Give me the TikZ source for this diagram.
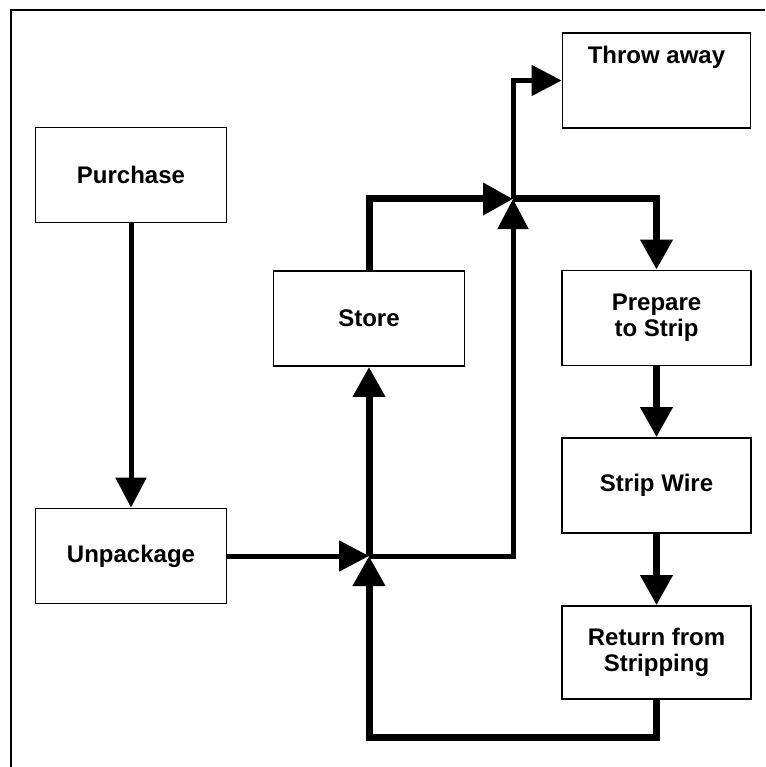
\documentclass[tikz,border=0pt]{standalone}
\usepackage{fontspec}
\setmainfont{Liberation Sans}
\usepackage{tikz}
\usetikzlibrary{arrows.meta,calc,positioning}

\begin{document}
\begin{tikzpicture}[x=1pt,y=-1pt,
    box/.style={draw,line width=1.8pt,minimum width=191pt,minimum height=95pt,
      inner sep=0pt,align=center,font=\bfseries\fontsize{24}{26}\selectfont},
    thinflow/.style={line width=5pt,-{Triangle[length=30pt,width=30pt]}},
    thickflow/.style={line width=7pt,-{Triangle[length=30pt,width=31pt]}}]
    \useasboundingbox (0,0) rectangle (765,767);
    % Ramme (kun top og venstre side)
    \draw[line width=1.6pt] (765,10) -- (11,10) -- (11,767);
    % Kasserne
    \node[box] (purchase) at (131,175) {Purchase};
    \node[box] (unpackage) at (131,556) {Unpackage};
    \node[box] (store) at (369,318.5) {Store};
    \node[box,minimum width=188pt,text height=17pt,text depth=50pt] (throw) at (656.5,80.5) {Throw away};
    \node[box,minimum width=189pt] (prepare) at (656.5,318) {Prepare\\to Strip};
    \node[box,minimum width=189pt] (strip) at (656.5,485.5) {Strip Wire};
    \node[box,minimum width=189pt,minimum height=93pt] (return) at (656.5,652.5) {Return from\\Stripping};
    % Knudepunkter
    \coordinate (j1) at (369,556);
    \coordinate (j2) at (513,199);
    \coordinate (bottom) at (656.5,737);
    % Pile
    \draw[thinflow] (purchase) -- (unpackage);
    \draw[thinflow] (unpackage) -- (j1);
    \draw[thickflow] (j1) -- (store);
    \draw[thinflow] (j1) -| (j2);
    \draw[thickflow] (store) |- (j2);
    \draw[thickflow] (j2) -| (prepare);
    \draw[thinflow] (j2) |- (throw);
    \draw[thickflow] (prepare) -- (strip);
    \draw[thickflow] (strip) -- (return);
    \draw[thickflow] (return) -- (bottom) -| (j1);
\end{tikzpicture}
\end{document}
